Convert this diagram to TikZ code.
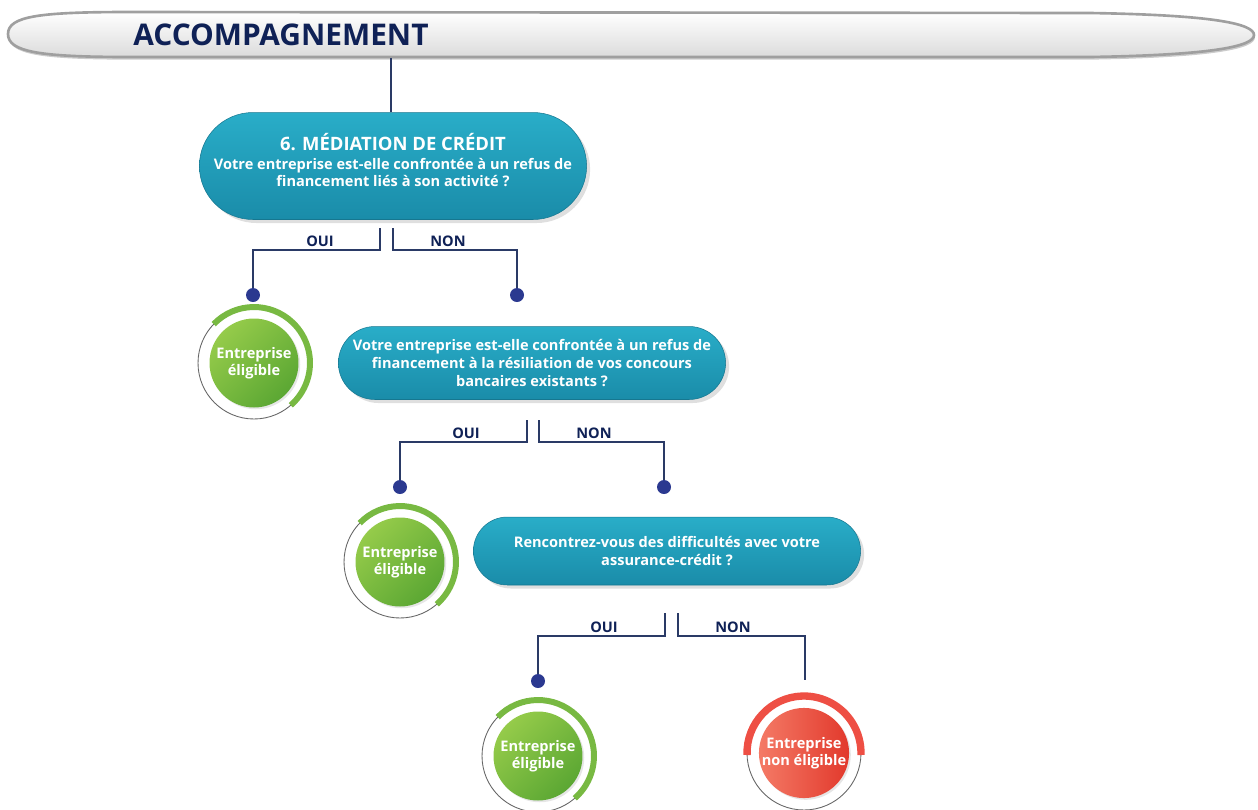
\documentclass[tikz,border=0pt]{standalone}
\usepackage{fontspec}
\setmainfont{Open Sans}
\usetikzlibrary{shapes.misc,shadows,calc}

\definecolor{tealtop}{HTML}{29ADC8}
\definecolor{tealbot}{HTML}{1A8CA9}
\definecolor{navy}{HTML}{0F2156}
\definecolor{linkcol}{HTML}{2A3A66}
\definecolor{dotcol}{HTML}{2B3990}
\definecolor{greenA}{HTML}{95CB4A}
\definecolor{greenB}{HTML}{5BA733}
\definecolor{greenarc}{HTML}{78B942}
\definecolor{redA}{HTML}{F47A66}
\definecolor{redB}{HTML}{E2392C}
\definecolor{redarc}{HTML}{EE4F44}

\tikzset{
  qbox/.style={rounded rectangle, minimum width=7.98cm, top color=tealtop, bottom color=tealbot,
    draw=tealbot!85!black, line width=0.3pt,
    drop shadow={shadow xshift=2pt, shadow yshift=-2pt, opacity=0.25},
    text=white, align=center, font=\bfseries\fontsize{8.3}{10}\selectfont},
  qtext/.style={text=white, align=center, font=\bfseries\fontsize{8.3}{10}\selectfont},
  answer/.style={text=navy, font=\bfseries\fontsize{8.3}{9}\selectfont},
  link/.style={linkcol, line width=0.65pt},
  dot/.style={circle, fill=dotcol, minimum size=0.28cm, inner sep=0pt},
  okdisc/.style={circle, minimum size=1.78cm, inner sep=0pt, left color=greenA, right color=greenB,
    shading angle=45, drop shadow={shadow xshift=1pt, shadow yshift=-1pt, opacity=0.2},
    text=white, align=center, font=\bfseries\fontsize{8.3}{10}\selectfont},
  nodisc/.style={okdisc, left color=redA, right color=redB},
  ring/.style={gray!80!black, line width=0.5pt},
  okarc/.style={greenarc, line width=3.4pt},
  noarc/.style={redarc, line width=4.2pt}
}

\begin{document}
\begin{tikzpicture}[x=0.02cm, y=-0.02cm]
\useasboundingbox (0,0) rectangle (1258,809);

% bandeau
\path[draw=gray!75, line width=1.5pt, top color=white, bottom color=gray!28,
  drop shadow={shadow xshift=0.5pt, shadow yshift=-1.5pt, opacity=0.4}]
  (8,34) .. controls (8,16) and (40,12) .. (130,12) -- (1090,13)
  .. controls (1215,15) and (1254,24) .. (1254,35)
  .. controls (1254,46) and (1215,55) .. (1090,57) -- (130,57)
  .. controls (40,57) and (8,52) .. (8,34);
\node[anchor=base west, inner sep=0pt, text=navy, font=\bfseries\fontsize{17}{20}\selectfont] (title) at (133,45) {ACCOMPAGNEMENT};
\coordinate (bannerbot) at (391,58);

% questions
\node[qbox, minimum height=2.14cm] (q1) at (393,166) {};
\node[qtext] (q1text) at (393,160) {{\fontsize{10.5}{12}\selectfont 6. MÉDIATION DE CRÉDIT}\\[1pt]
  Votre entreprise est-elle confrontée à un refus de\\ financement liés à son activité ?};
\node[qbox, minimum height=1.46cm] (q2) at (532,363) {Votre entreprise est-elle confrontée à un refus de\\
  financement à la résiliation de vos concours\\ bancaires existants ?};
\node[qbox, minimum height=1.36cm] (q3) at (667,551) {Rencontrez-vous des difficultés avec votre\\ assurance-crédit ?};

\draw[link] (bannerbot) -- (bannerbot |- q1.north);

% branches 1
\coordinate (s1l) at (380,228);
\coordinate (s1r) at (393,228);
\node[dot] (d1) at (253,295) {};
\node[dot] (d2) at (517,295) {};
\draw[link] (s1l) -- ++(0,22) -| (d1);
\draw[link] (s1r) -- ++(0,22) -| (d2);
\node[answer] (oui1) at (320,241) {OUI};
\node[answer] (non1) at (448,241) {NON};

% branches 2
\coordinate (s2l) at (527,420);
\coordinate (s2r) at (539,420);
\node[dot] (d3) at (400,487) {};
\node[dot] (d4) at (664,487) {};
\draw[link] (s2l) -- ++(0,22) -| (d3);
\draw[link] (s2r) -- ++(0,22) -| (d4);
\node[answer] (oui2) at (466,433) {OUI};
\node[answer] (non2) at (594,433) {NON};

% branches 3
\coordinate (s3l) at (665,613);
\coordinate (s3r) at (678,613);
\node[dot] (d5) at (538,681) {};
\coordinate (e3) at (805,680);
\draw[link] (s3l) -- ++(0,23) -| (d5);
\draw[link] (s3r) -- ++(0,23) -| (e3);
\node[answer] (oui3) at (604,627) {OUI};
\node[answer] (non3) at (733,627) {NON};

% resultats
\node[okdisc] (r1) at (254,363) {Entreprise\\éligible};
\draw[ring] (r1.center) circle (1.12cm);
\draw[okarc] ($(r1.center)+(136:1.12cm)$) arc[start angle=136, end angle=-49, radius=1.12cm];

\node[okdisc] (r2) at (400,562) {Entreprise\\éligible};
\draw[ring] (r2.center) circle (1.12cm);
\draw[okarc] ($(r2.center)+(136:1.12cm)$) arc[start angle=136, end angle=-49, radius=1.12cm];

\node[okdisc] (r3) at (538,756) {Entreprise\\éligible};
\draw[ring] (r3.center) circle (1.12cm);
\draw[okarc] ($(r3.center)+(136:1.12cm)$) arc[start angle=136, end angle=-49, radius=1.12cm];

\node[nodisc] (r4) at (804,753) {Entreprise\\non éligible};
\draw[ring] (r4.center) circle (1.14cm);
\draw[noarc] ($(r4.center)+(182:1.14cm)$) arc[start angle=182, end angle=-2, radius=1.14cm];
\end{tikzpicture}
\end{document}
